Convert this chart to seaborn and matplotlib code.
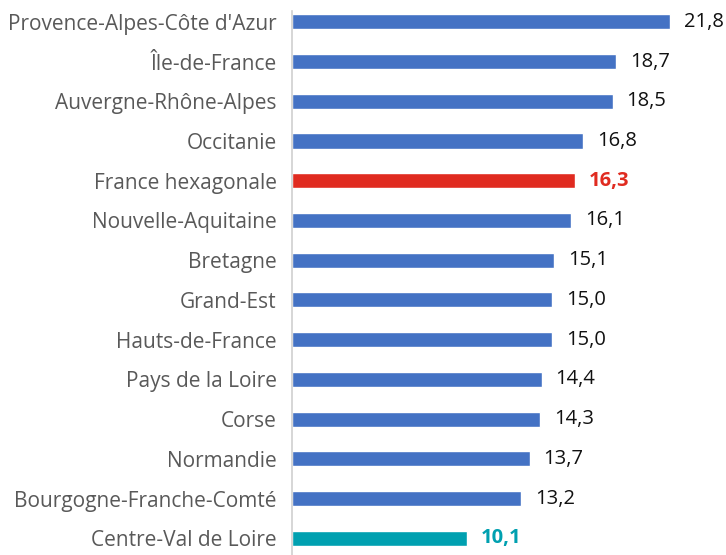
import matplotlib
matplotlib.use("Agg")
import matplotlib.pyplot as plt
import seaborn as sns
import pandas as pd

regions = ["Provence-Alpes-Côte d'Azur", "Île-de-France", "Auvergne-Rhône-Alpes",
           "Occitanie", "France hexagonale", "Nouvelle-Aquitaine", "Bretagne",
           "Grand-Est", "Hauts-de-France", "Pays de la Loire", "Corse",
           "Normandie", "Bourgogne-Franche-Comté", "Centre-Val de Loire"]
values = [21.8, 18.7, 18.5, 16.8, 16.3, 16.1, 15.1, 15.0, 15.0, 14.4, 14.3,
          13.7, 13.2, 10.1]
groups = ["region"] * 4 + ["france"] + ["region"] * 8 + ["centre"]

BLUE = "#4472C4"
RED = "#E02B20"
TEAL = "#00A0B0"
palette = {"region": BLUE, "france": RED, "centre": TEAL}
label_color = {"region": "#111111", "france": RED, "centre": TEAL}

df = pd.DataFrame({"region": regions, "value": values, "group": groups})

sns.set_style("white")
plt.rcParams['font.family'] = ['Open Sans', 'DejaVu Sans']

fig = plt.figure(figsize=(7.26, 5.55), dpi=100)
ax = fig.add_axes([292 / 726, 0, (726 - 292) / 726, 1])

sns.barplot(data=df, y="region", x="value", hue="group", palette=palette,
            orient="h", width=0.38, legend=False, ax=ax, dodge=False,
            saturation=1)

ax.set_xlim(0, 25.03)
ax.set_ylim(13.42, -0.55)
ax.set_xlabel("")
ax.set_ylabel("")
ax.set_xticks([])
for s in ["top", "right", "bottom"]:
    ax.spines[s].set_visible(False)
ax.spines["left"].set_color("#D0D0D0")
ax.spines["left"].set_linewidth(1.2)
ax.spines["left"].set_bounds(13.42, -0.28)

ax.tick_params(axis="y", length=0, pad=11, labelsize=15, labelcolor="#595959")

for i, (v, g) in enumerate(zip(values, groups)):
    bold = g != "region"
    ax.text(v + 0.8, i, f"{v:.1f}".replace(".", ","), va="center",
            ha="left", fontsize=14.5, color=label_color[g],
            fontweight="bold" if bold else "normal")

fig.savefig("out.png", dpi=100)
